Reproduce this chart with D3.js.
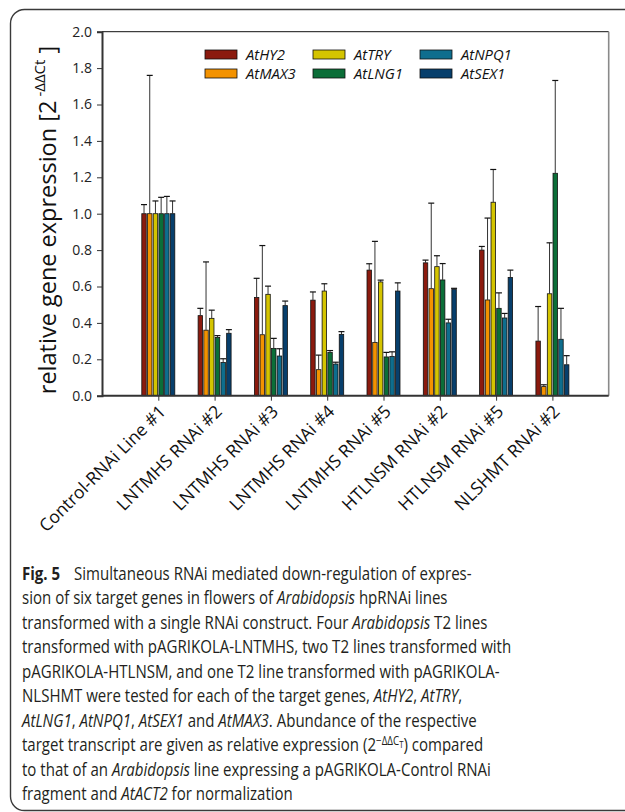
<!DOCTYPE html>
<html>
<head>
<meta charset="utf-8">
<script src="https://cdn.jsdelivr.net/npm/d3@7"></script>
<style>
  html, body { margin: 0; padding: 0; background: #fff; }
  svg { display: block; font-family: "Open Sans", "Noto Sans", sans-serif; }
</style>
</head>
<body>
<svg id="fig" width="625" height="812"></svg>
<script>
// RNAi lines (x categories)
const lines = ["Control-RNAi Line #1", "LNTMHS RNAi #2", "LNTMHS RNAi #3", "LNTMHS RNAi #4",
               "LNTMHS RNAi #5", "HTLNSM RNAi #2", "HTLNSM RNAi #5", "NLSHMT RNAi #2"];
// target genes (series)
const genes = ["AtHY2", "AtMAX3", "AtTRY", "AtLNG1", "AtNPQ1", "AtSEX1"];
const geneColors = ["#8b1a0e", "#f39200", "#d4c400", "#0b6e38", "#0e6e8e", "#073f6c"];

// relative expression (2^-ΔΔCt), one value per line
const hy2  = [1.00, 0.44, 0.54, 0.525, 0.69, 0.73, 0.80, 0.30];
const max3 = [1.00, 0.36, 0.335, 0.143, 0.293, 0.588, 0.526, 0.05];
const tryG = [1.00, 0.425, 0.557, 0.575, 0.625, 0.709, 1.063, 0.56];
const lng1 = [1.00, 0.32, 0.26, 0.238, 0.213, 0.636, 0.48, 1.222];
const npq1 = [1.00, 0.183, 0.218, 0.174, 0.216, 0.40, 0.427, 0.31];
const sex1 = [1.00, 0.343, 0.495, 0.337, 0.575, 0.585, 0.65, 0.17];

// standard deviations (upper whiskers)
const hy2Sd  = [0.05, 0.04, 0.105, 0.045, 0.035, 0.015, 0.02, 0.19];
const max3Sd = [0.76, 0.375, 0.49, 0.08, 0.555, 0.47, 0.45, 0.01];
const trySd  = [0.07, 0.045, 0.045, 0.04, 0.01, 0.06, 0.18, 0.28];
const lng1Sd = [0.09, 0.01, 0.055, 0.01, 0.025, 0.09, 0.085, 0.51];
const npq1Sd = [0.095, 0.02, 0.04, 0.01, 0.025, 0.02, 0.025, 0.17];
const sex1Sd = [0.07, 0.02, 0.025, 0.015, 0.045, 0.005, 0.04, 0.05];

const yTicks = [0, 0.2, 0.4, 0.6, 0.8, 1.0, 1.2, 1.4, 1.6, 1.8, 2.0];

const means = [hy2, max3, tryG, lng1, npq1, sex1];
const sds = [hy2Sd, max3Sd, trySd, lng1Sd, npq1Sd, sex1Sd];
const records = [];
lines.forEach((ln, i) => genes.forEach((g, j) => {
  records.push({ line: ln, gene: g, value: means[j][i], sd: sds[j][i], color: geneColors[j] });
}));

const svg = d3.select("#fig");

// outer rounded panel border
svg.append("rect")
  .attr("x", 10.5).attr("y", 9.5).attr("width", 660).attr("height", 801)
  .attr("rx", 14).attr("ry", 14)
  .attr("fill", "none").attr("stroke", "#3a3a3a").attr("stroke-width", 1.4);

const plot = { left: 102, right: 608.7, top: 31.7, bottom: 395.7 };

const x = d3.scalePoint().domain(lines).range([plot.left, plot.right]).padding(1);
const xInner = d3.scaleBand().domain(genes).range([-16.5, 16.5]).paddingInner(0.22);
const y = d3.scaleLinear().domain([0, 2]).range([plot.bottom, plot.top]);

// plot frame: top and right edges
svg.append("line").attr("x1", plot.left).attr("x2", plot.right)
  .attr("y1", plot.top).attr("y2", plot.top).attr("stroke", "#111").attr("stroke-width", 1);
svg.append("line").attr("x1", plot.right).attr("x2", plot.right)
  .attr("y1", plot.top).attr("y2", plot.bottom).attr("stroke", "#8a8a8a").attr("stroke-width", 1.6);

// bars
const g = svg.append("g");
g.selectAll("rect.bar").data(records).join("rect")
  .attr("class", "bar")
  .attr("x", d => x(d.line) + xInner(d.gene))
  .attr("width", xInner.bandwidth())
  .attr("y", d => y(d.value))
  .attr("height", d => y(0) - y(d.value))
  .attr("fill", d => d.color)
  .attr("stroke", "#111").attr("stroke-width", 0.8);

// error bars (upper whisker)
const err = g.selectAll("g.err").data(records).join("g").attr("class", "err");
err.append("line")
  .attr("x1", d => x(d.line) + xInner(d.gene) + xInner.bandwidth() / 2)
  .attr("x2", d => x(d.line) + xInner(d.gene) + xInner.bandwidth() / 2)
  .attr("y1", d => y(d.value))
  .attr("y2", d => y(d.value + d.sd))
  .attr("stroke", "#333").attr("stroke-width", 1);
err.append("line")
  .attr("x1", d => x(d.line) + xInner(d.gene) + xInner.bandwidth() / 2 - 3)
  .attr("x2", d => x(d.line) + xInner(d.gene) + xInner.bandwidth() / 2 + 3)
  .attr("y1", d => y(d.value + d.sd))
  .attr("y2", d => y(d.value + d.sd))
  .attr("stroke", "#111").attr("stroke-width", 1.2);

// y axis
const yAxis = svg.append("g").attr("transform", `translate(${plot.left},0)`)
  .call(d3.axisLeft(y).tickValues(yTicks).tickFormat(d3.format(".1f")).tickSize(5).tickPadding(5));
yAxis.select(".domain").attr("stroke", "#333").attr("stroke-width", 2);
yAxis.selectAll(".tick line").attr("stroke", "#333");
yAxis.selectAll(".tick text").attr("font-size", 14).attr("fill", "#222")
  .attr("font-family", "'Open Sans', sans-serif");

// x axis
const xAxis = svg.append("g").attr("transform", `translate(0,${plot.bottom})`)
  .call(d3.axisBottom(x).tickSize(5).tickSizeOuter(0));
xAxis.select(".domain").attr("stroke", "#333").attr("stroke-width", 2)
  .attr("d", `M${plot.left},0H${plot.right}`);
xAxis.selectAll(".tick line").attr("stroke", "#333");
xAxis.selectAll(".tick text")
  .attr("font-size", 17.5).attr("fill", "#111")
  .attr("font-family", "'Open Sans', sans-serif")
  .attr("text-anchor", "end")
  .attr("dy", null).attr("y", null)
  .attr("transform", "translate(8,17) rotate(-45)");

// y axis title
const yt = svg.append("text")
  .attr("transform", "translate(56,220) rotate(-90)")
  .attr("text-anchor", "middle")
  .attr("font-size", 23.5).attr("fill", "#111");
yt.append("tspan").text("relative gene expression [2");
yt.append("tspan").attr("dx", 4).attr("dy", -11).attr("font-size", 15).text("-ΔΔCt");
yt.append("tspan").attr("dy", 11).text(" ]");

// legend
const legPos = [[205, 50], [205, 69], [313, 50], [313, 69], [420, 50], [420, 69]];
const leg = svg.append("g");
genes.forEach((gn, i) => {
  const [lx, ly] = legPos[i];
  leg.append("rect").attr("x", lx).attr("y", ly).attr("width", 32).attr("height", 9)
    .attr("fill", geneColors[i]).attr("stroke", "#111").attr("stroke-width", 0.8);
  leg.append("text").attr("x", lx + 41).attr("y", ly + 9.5)
    .attr("font-size", 14.8).attr("font-style", "italic").attr("fill", "#111").text(gn);
});

// caption: one horizontal scale for every line, taken from the measured line widths
const cap = svg.append("g").attr("font-size", 18.4).attr("fill", "#231f20");
const lineH = 24.5, y0 = 579.5;
const capLines = [
  { x: 22, w: 45, parts: [["Fig. 5", 2]] },
  { x: 74, w: 421, parts: [["Simultaneous RNAi mediated down-regulation of expres-", 0]] },
  { x: 22, w: 438, parts: [["sion of six target genes in flowers of ", 0], ["Arabidopsis", 1], [" hpRNAi lines", 0]] },
  { x: 22, w: 458, parts: [["transformed with a single RNAi construct. Four ", 0], ["Arabidopsis", 1], [" T2 lines", 0]] },
  { x: 22, w: 483, parts: [["transformed with pAGRIKOLA-LNTMHS, two T2 lines transformed with", 0]] },
  { x: 22, w: 470, parts: [["pAGRIKOLA-HTLNSM, and one T2 line transformed with pAGRIKOLA-", 0]] },
  { x: 22, w: null, parts: [["NLSHMT were tested for each of the target genes, ", 0], ["AtHY2", 1], [", ", 0], ["AtTRY", 1], [",", 0]] },
  { x: 22, w: 470, parts: [["AtLNG1", 1], [", ", 0], ["AtNPQ1", 1], [", ", 0], ["AtSEX1", 1], [" and ", 0], ["AtMAX3", 1], [". Abundance of the respective", 0]] },
  { x: 22, w: 483, parts: "sup" },
  { x: 22, w: 465, parts: [["to that of an ", 0], ["Arabidopsis", 1], [" line expressing a pAGRIKOLA-Control RNAi", 0]] },
  { x: 22, w: 273, parts: [["fragment and ", 0], ["AtACT2", 1], [" for normalization", 0]] }
];
const lineRow = [0, 0, 1, 2, 3, 4, 5, 6, 7, 8, 9];
const built = capLines.map((cl, i) => {
  const holder = cap.append("g");
  const t = holder.append("text");
  if (cl.parts === "sup") {
    t.append("tspan").text("target transcript are given as relative expression (2");
    t.append("tspan").attr("dy", -6).attr("font-size", 12).text("−ΔΔC");
    t.append("tspan").attr("dy", 3).attr("font-size", 9.5).text("T");
    t.append("tspan").attr("dy", 3).text(") compared");
  } else {
    cl.parts.forEach(([s, st]) => {
      t.append("tspan")
        .attr("font-style", st === 1 ? "italic" : null)
        .attr("font-weight", st === 2 ? "bold" : null)
        .text(s);
    });
  }
  return { holder, cl, row: lineRow[i], natural: t.node().getComputedTextLength() };
});
const ratios = built.filter(b => b.cl.w && b.row > 0).map(b => b.cl.w / b.natural);
const sx = d3.median(ratios);
built.forEach(b => {
  b.holder.attr("transform", `translate(${b.cl.x},${y0 + b.row * lineH}) scale(${sx},1)`);
});
</script>
</body>
</html>
